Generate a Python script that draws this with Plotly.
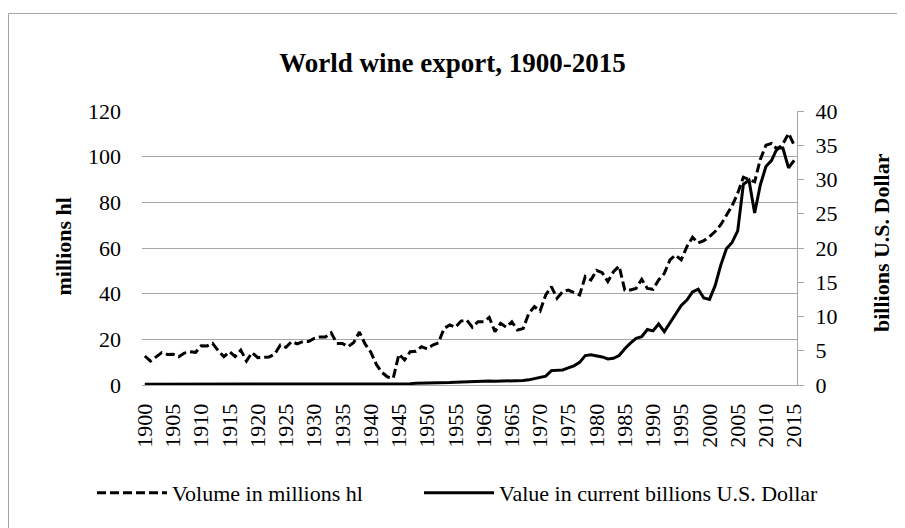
import plotly.graph_objects as go

years = list(range(1900, 2016))

volume_mhl = [
    12.7, 10.5, 12.3, 14.2, 13.4, 13.5, 12.4, 14.0, 14.6, 14.3,   # 1900-1909
    17.2, 17.1, 18.2, 15.0, 12.4, 14.6, 12.4, 15.3, 10.5, 14.2,   # 1910-1919
    12.0, 12.0, 12.3, 13.5, 17.5, 16.5, 19.0, 18.0, 19.0, 19.0,   # 1920-1929
    20.4, 21.0, 21.0, 22.9, 18.2, 18.2, 16.8, 18.6, 23.2, 18.0,   # 1930-1939
    14.5, 9.0, 5.5, 3.5, 3.0, 13.5, 11.0, 14.6, 14.8, 16.8,       # 1940-1949
    15.8, 17.5, 18.5, 24.8, 26.3, 25.3, 28.0, 28.5, 25.3, 27.7,   # 1950-1959
    27.7, 29.6, 23.4, 27.0, 25.3, 27.7, 24.1, 24.7, 31.4, 34.3,   # 1960-1969
    32.4, 39.4, 43.1, 38.0, 40.9, 41.6, 40.6, 39.4, 47.5, 46.0,   # 1970-1979
    50.2, 49.2, 45.3, 49.6, 52.1, 41.6, 41.6, 42.3, 46.3, 42.3,   # 1980-1989
    41.9, 46.0, 48.9, 54.8, 56.9, 54.8, 60.6, 64.7, 62.2, 63.2,   # 1990-1999
    65.0, 67.2, 70.2, 74.2, 78.5, 84.0, 91.0, 90.0, 89.0, 98.8,   # 2000-2009
    105.0, 105.8, 103.2, 105.5, 110.2, 105.0,                     # 2010-2015
]

value_busd = [
    0.1, 0.1, 0.1, 0.1, 0.1, 0.1, 0.1, 0.1, 0.1, 0.1,             # 1900-1909
    0.1, 0.1, 0.1, 0.1, 0.1, 0.1, 0.2, 0.2, 0.2, 0.2,             # 1910-1919
    0.15, 0.15, 0.15, 0.15, 0.15, 0.2, 0.2, 0.2, 0.2, 0.2,        # 1920-1929
    0.2, 0.2, 0.2, 0.2, 0.2, 0.2, 0.2, 0.2, 0.2, 0.2,             # 1930-1939
    0.1, 0.1, 0.1, 0.1, 0.1, 0.1, 0.15, 0.2, 0.25, 0.25,          # 1940-1949
    0.3, 0.3, 0.3, 0.35, 0.35, 0.4, 0.45, 0.5, 0.5, 0.55,         # 1950-1959
    0.55, 0.6, 0.55, 0.55, 0.55, 0.55, 0.6, 0.65, 0.75, 0.9,      # 1960-1969
    1.1, 1.3, 2.1, 2.1, 2.2, 2.5, 2.8, 3.3, 4.3, 4.4,             # 1970-1979
    4.3, 4.1, 3.8, 3.9, 4.3, 5.3, 6.1, 6.8, 7.05, 8.1,            # 1980-1989
    7.9, 8.9, 7.8, 9.1, 10.4, 11.6, 12.4, 13.6, 14.0, 12.7,       # 1990-1999
    12.5, 14.5, 17.5, 19.9, 20.8, 22.5, 29.3, 29.9, 25.1, 29.2,   # 2000-2009
    31.9, 32.8, 34.6, 34.6, 31.7, 32.8,                           # 2010-2015
]

tick_years = list(range(1900, 2016, 5))
tick_labels = [str(y) for y in tick_years]

FONT = "Liberation Serif, Times New Roman, serif"
GRID = "#a6a6a6"

# The page body has an 8px margin: figure pixel = window pixel - 8
OFF = 8
W, H = 905 - OFF, 528 - OFF
L, R, T, B = 142 - OFF, 797 - OFF, 111 - OFF, 385 - OFF
pw, ph = R - L, B - T


def px_x(p):
    """window pixel x -> paper x"""
    return (p - OFF - L) / pw


def px_y(p):
    """window pixel y -> paper y"""
    return (B - (p - OFF)) / ph


fig = go.Figure()
fig.add_trace(go.Scatter(
    x=years, y=volume_mhl, mode="lines", name="Volume in millions hl",
    line=dict(color="black", width=3, dash="9px,4px"), yaxis="y",
    legend="legend",
))
fig.add_trace(go.Scatter(
    x=years, y=value_busd, mode="lines", name="Value in current billions U.S. Dollar",
    line=dict(color="black", width=3), yaxis="y2",
    legend="legend2",
))

legend_common = dict(orientation="h", xanchor="left", yanchor="middle",
                     font=dict(family=FONT, size=22, color="black"),
                     bgcolor="rgba(0,0,0,0)", itemwidth=70,
                     borderwidth=0)

fig.update_layout(
    width=W, height=H,
    margin=dict(l=L, r=W - R, t=T, b=H - B, pad=0),
    paper_bgcolor="white", plot_bgcolor="white",
    font=dict(family=FONT, size=22, color="black"),
    title=dict(text="<b>World wine export, 1900-2015</b>",
               x=(452.5 - OFF) / W, xanchor="center",
               y=1 - (63 - OFF) / H, yanchor="middle",
               xref="container", yref="container",
               font=dict(family=FONT, size=27, color="black")),
    showlegend=True,
    legend=dict(x=px_x(92), y=px_y(493), **legend_common),
    legend2=dict(x=px_x(419), y=px_y(493), **legend_common),
    xaxis=dict(range=[1899.5, 2015.5], tickmode="array",
               tickvals=tick_years, ticktext=tick_labels, tickangle=-90,
               showgrid=False, zeroline=False, showline=True,
               linecolor=GRID, linewidth=1, ticks="",
               ticklabelstandoff=9,
               tickfont=dict(family=FONT, size=22, color="black")),
    yaxis=dict(range=[0, 120], tickmode="linear", tick0=0, dtick=20,
               showgrid=True, gridcolor=GRID, gridwidth=1,
               zeroline=False, showline=False, ticks="",
               ticklabelstandoff=20,
               tickfont=dict(family=FONT, size=22, color="black")),
    yaxis2=dict(range=[0, 40], tickmode="linear", tick0=0, dtick=5,
                overlaying="y", side="right", showgrid=False,
                zeroline=False, showline=True, linecolor=GRID, linewidth=1,
                ticks="outside", ticklen=6, tickcolor=GRID, tickwidth=1,
                ticklabelstandoff=7,
                tickfont=dict(family=FONT, size=22, color="black")),
)

fig.add_annotation(text="<b>millions hl</b>", textangle=-90,
                   xref="paper", yref="paper", x=px_x(63), y=px_y(246.5),
                   xanchor="center", yanchor="middle", showarrow=False,
                   font=dict(family=FONT, size=22, color="black"))
fig.add_annotation(text="<b>billions U.S. Dollar</b>", textangle=-90,
                   xref="paper", yref="paper", x=px_x(881), y=px_y(243),
                   xanchor="center", yanchor="middle", showarrow=False,
                   font=dict(family=FONT, size=22, color="black"))

fig.add_shape(type="rect", xref="paper", yref="paper",
              x0=px_x(8.5), x1=px_x(930), y0=px_y(560), y1=px_y(13.5),
              line=dict(color="#a6a6a6", width=1), fillcolor="rgba(0,0,0,0)",
              layer="below")

fig.write_html("out.html")
